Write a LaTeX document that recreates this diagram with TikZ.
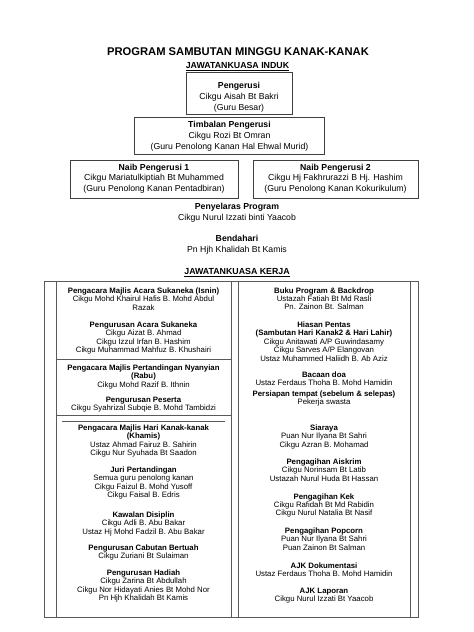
\documentclass[tikz,border=0pt]{standalone}
\usepackage{fontspec}
\setmainfont{Liberation Sans}
\tikzset{
  ln/.style={inner sep=0pt, anchor=base, font=\fontsize{7.8}{8.4}\selectfont},
  tl/.style={inner sep=0pt, anchor=base, font=\fontsize{8.7}{11}\selectfont},
  topbox/.style={draw=black!75, line width=0.8pt},
  grid/.style={draw=black!65, line width=0.75pt},
}
\newcommand\lstack[4]{\foreach \mytext [count=\i] in {#4} {\path (#2,{#3+(\i-1)*8.4}) node[ln] (#1-\i) {\mytext};}}
\newcommand\tstack[4]{\foreach \mytext [count=\i] in {#4} {\path (#2,{#3+(\i-1)*10.8}) node[tl] (#1-\i) {\mytext};}}
\begin{document}
\begin{tikzpicture}[x=1pt,y=-1pt]
\useasboundingbox[fill=white] (0,0) rectangle (474,632);
% title
\node[inner sep=0pt, anchor=base, font=\fontsize{11.2}{13}\selectfont\bfseries] (title) at (238,55) {PROGRAM SAMBUTAN MINGGU KANAK-KANAK};
\node[tl, font=\fontsize{8.8}{11}\selectfont\bfseries] (induk) at (237.5,68.5) {\underline{JAWATANKUASA INDUK}};
% top boxes
\draw[topbox] (186,72) rectangle (292,114);
\tstack{peng}{239}{88.5}{\textbf{Pengerusi}, Cikgu Aisah Bt Bakri, (Guru Besar)}
\draw[topbox] (134.5,117) rectangle (324.5,154);
\tstack{timb}{229.5}{127.5}{\textbf{Timbalan Pengerusi}, Cikgu Rozi Bt Omran, (Guru Penolong Kanan Hal Ehwal Murid)}
\draw[topbox] (70,160) rectangle (238,198);
\tstack{naiba}{154}{170}{\textbf{Naib Pengerusi 1}, Cikgu Mariatulkiptiah Bt Muhammed, (Guru Penolong Kanan Pentadbiran)}
\draw[topbox] (253,160) rectangle (418,198);
\tstack{naibb}{335.5}{170}{\textbf{Naib Pengerusi 2}, Cikgu Hj Fakhrurazzi B Hj. Hashim, (Guru Penolong Kanan Kokurikulum)}
\tstack{peny}{237}{209.5}{\textbf{Penyelaras Program}, Cikgu Nurul Izzati binti Yaacob}
\tstack{bend}{237}{241.5}{\textbf{Bendahari}, Pn Hjh Khalidah Bt Kamis}
\node[tl, font=\fontsize{8.8}{11}\selectfont\bfseries] (kerja) at (237,274.5) {\underline{JAWATANKUASA KERJA}};
% work table
\draw[grid] (44,281) rectangle (418,617);
\draw[grid] (56,281) -- (56,617);
\draw[grid] (231,281) -- (231,617);
\draw[grid] (238,281) -- (238,617);
\draw[grid] (410,281) -- (410,617);
\draw[grid] (56,359) -- (231,359);
\draw[grid] (56,415) -- (231,415);
\draw[grid] (62,421) -- (225,421);
% left column
\lstack{la}{143.5}{293.4}{\textbf{Pengacara Majlis Acara Sukaneka (Isnin)}, Cikgu Mohd Khairul Hafis B. Mohd Abdul, Razak}
\lstack{lb}{143.5}{327.4}{\textbf{Pengurusan Acara Sukaneka}, Cikgu Aizat B. Ahmad, Cikgu Izzul Irfan B. Hashim, Cikgu Muhammad Mahfuz B. Khushairi}
\lstack{lc}{143.5}{370.4}{\textbf{Pengacara Majlis Pertandingan Nyanyian}, \textbf{(Rabu)}, Cikgu Mohd Razif B. Ithnin}
\lstack{ld}{143.5}{402.4}{\textbf{Pengurusan Peserta}, Cikgu Syahrizal Subqie B. Mohd Tambidzi}
\lstack{le}{143.5}{430.4}{\textbf{Pengacara Majlis Hari Kanak-kanak}, \textbf{(Khamis)}, Ustaz Ahmad Fairuz B. Sahirin, Cikgu Nur Syuhada Bt Saadon}
\lstack{lf}{143.5}{472.4}{\textbf{Juri Pertandingan}, Semua guru penolong kanan, Cikgu Faizul B. Mohd Yusoff, Cikgu Faisal B. Edris}
\lstack{lg}{143.5}{517.4}{\textbf{Kawalan Disiplin}, Cikgu Adli B. Abu Bakar, Ustaz Hj Mohd Fadzil B. Abu Bakar}
\lstack{lh}{143.5}{550.4}{\textbf{Pengurusan Cabutan Bertuah}, Cikgu Zuriani Bt Sulaiman}
\lstack{li}{143.5}{575.4}{\textbf{Pengurusan Hadiah}, Cikgu Zarina Bt Abdullah, Cikgu Nor Hidayati Anies Bt Mohd Nor, Pn Hjh Khalidah Bt Kamis}
% right column
\lstack{ra}{324}{293}{\textbf{Buku Program \& Backdrop}, Ustazah Fatiah Bt Md Rasli, Pn. Zainon Bt. Salman}
\lstack{rb}{324}{327.4}{\textbf{Hiasan Pentas}, \textbf{(Sambutan Hari Kanak2 \& Hari Lahir)}, Cikgu Anitawati A/P Guwindasamy, Cikgu Sarves A/P Elangovan, Ustaz Muhammed Haliidh B. Ab Aziz}
\lstack{rc}{324}{377.4}{\textbf{Bacaan doa}, Ustaz Ferdaus Thoha B. Mohd Hamidin}
\lstack{rd}{324}{396.4}{\textbf{Persiapan tempat (sebelum \& selepas)}, Pekerja swasta}
\lstack{re}{324}{430.4}{\textbf{Siaraya}, Puan Nur Ilyana Bt Sahri, Cikgu Azran B. Mohamad}
\lstack{rf}{324}{464.4}{\textbf{Pengagihan Aiskrim}, Cikgu Norinsam Bt Latib, Ustazah Nurul Huda Bt Hassan}
\lstack{rg}{324}{499}{\textbf{Pengagihan Kek}, Cikgu Rafidah Bt Md Rabidin, Cikgu Nurul Natalia Bt Nasif}
\lstack{rh}{324}{533.4}{\textbf{Pengagihan Popcorn}, Puan Nur Ilyana Bt Sahri, Puan Zainon Bt Salman}
\lstack{ri}{324}{568.4}{\textbf{AJK Dokumentasi}, Ustaz Ferdaus Thoha B. Mohd Hamidin}
\lstack{rj}{324}{593.4}{\textbf{AJK Laporan}, Cikgu Nurul Izzati Bt Yaacob}
\end{tikzpicture}
\end{document}
